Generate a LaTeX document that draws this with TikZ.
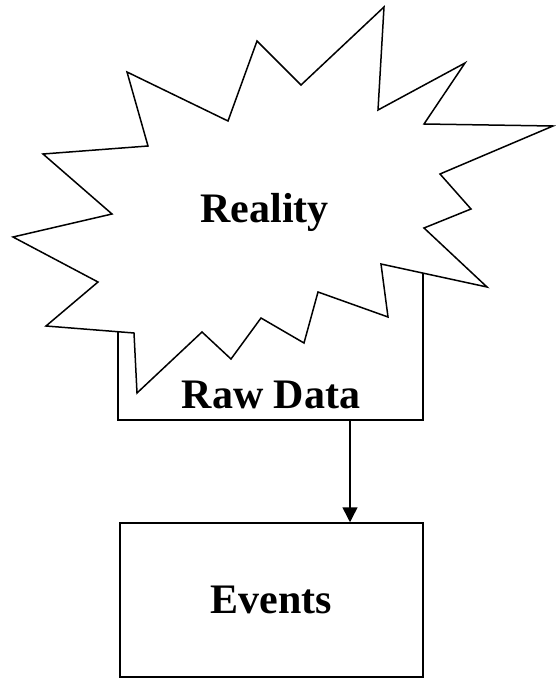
\documentclass[tikz,border=0pt]{standalone}
\usepackage{fontspec}
\setmainfont{Liberation Serif}
\usetikzlibrary{arrows.meta,positioning}
\tikzset{
  box/.style={draw,line width=1.5pt,inner sep=0pt},
  lbl/.style={font=\fontsize{42}{42}\selectfont\bfseries},
}
\begin{document}
\begin{tikzpicture}[x=1pt,y=-1pt,line width=1.5pt]
 \useasboundingbox (0,0) rectangle (556,679);
 % raw data box (behind the burst)
 \node[box,minimum width=305pt,minimum height=170pt] (rawbox) at (270.5,335) {};
 % reality burst
 \draw[fill=white] (384,7) -- (378,110) -- (465,63) -- (424,124) -- (553,126)
   -- (440,174) -- (471,209) -- (424,228) -- (487,287) -- (381,264)
   -- (388,317) -- (318,292) -- (304,343) -- (261,318) -- (231,359)
   -- (202,332) -- (137,393) -- (134,333) -- (46,326) -- (98,282)
   -- (13,237) -- (112,214) -- (43,154) -- (148,146) -- (127,72)
   -- (228,121) -- (257,41) -- (301,85) -- cycle;
 \node[lbl,anchor=base] (reality) at (264.5,222) {Reality};
 \node[lbl,anchor=base] (rawdata) at (271,408) {Raw Data};
 % events
 \node[box,lbl,minimum width=303pt,minimum height=154pt] (events) at (271.5,600) {Events};
 % arrow
 \coordinate (tap) at (350,420);
 \draw[-{Triangle[width=15pt,length=15pt]}] (tap) -- (tap |- events.north);
\end{tikzpicture}
\end{document}
